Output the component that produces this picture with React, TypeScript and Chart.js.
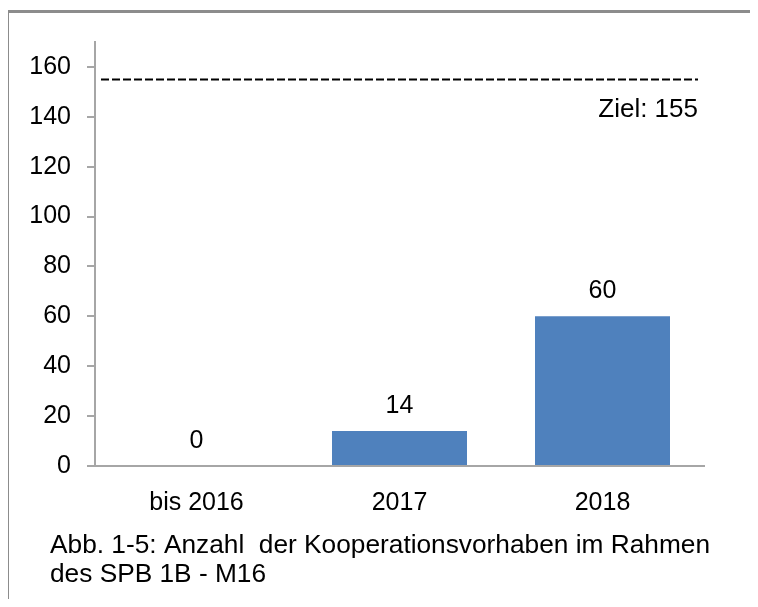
import { useEffect, useRef } from 'react';
import { Chart, registerables } from 'chart.js';

Chart.register(...registerables);

const categories = ['bis 2016', '2017', '2018'];
const values = [0, 14, 60];
const yTicks = [0, 20, 40, 60, 80, 100, 120, 140, 160];
const yMax = 170;
const targetValue = 155;
const targetLabel = 'Ziel: 155';
const captionLines = [
  'Abb. 1-5: Anzahl  der Kooperationsvorhaben im Rahmen',
  'des SPB 1B - M16',
];

const FONT_FAMILY = '"Liberation Sans", Arial, sans-serif';
const AXIS_GREY = '#a6a6a6';

const overlayPlugin = {
  id: 'overlay',
  afterDatasetsDraw(chart: any) {
    const { ctx, chartArea, scales } = chart;
    const y = scales.y;
    ctx.save();
    // data labels
    const meta = chart.getDatasetMeta(0);
    ctx.fillStyle = '#000';
    ctx.font = `25px ${FONT_FAMILY}`;
    ctx.textAlign = 'center';
    ctx.textBaseline = 'middle';
    meta.data.forEach((bar: any, i: number) => {
      ctx.fillText(String(values[i]), bar.x, bar.y - 25);
    });
    // target line
    const ty = y.getPixelForValue(targetValue);
    ctx.strokeStyle = '#000';
    ctx.lineWidth = 2;
    ctx.setLineDash([8, 3]);
    ctx.beginPath();
    ctx.moveTo(chartArea.left + 6, ty);
    ctx.lineTo(chartArea.right - 6, ty);
    ctx.stroke();
    ctx.setLineDash([]);
    ctx.textAlign = 'right';
    ctx.font = `26px ${FONT_FAMILY}`;
    ctx.fillText(targetLabel, chartArea.right - 6, ty + 30);
    // caption
    ctx.textAlign = 'left';
    ctx.textBaseline = 'alphabetic';
    ctx.font = `26px ${FONT_FAMILY}`;
    const w = ctx.measureText(captionLines[0]).width;
    const sx = 660 / w;
    captionLines.forEach((line, i) => {
      ctx.save();
      ctx.translate(50, 553 + i * 29);
      ctx.scale(sx, 1);
      ctx.fillText(line, 0, 0);
      ctx.restore();
    });
    // frame (top and left edges)
    ctx.strokeStyle = '#8c8c8c';
    ctx.lineWidth = 3;
    ctx.beginPath();
    ctx.moveTo(7.5, chart.height + 5);
    ctx.lineTo(7.5, 11.5);
    ctx.lineTo(chart.width + 5, 11.5);
    ctx.stroke();
    ctx.restore();
  },
};

export default function App() {
  const canvasRef = useRef<HTMLCanvasElement | null>(null);

  useEffect(() => {
    if (!canvasRef.current) return;
    const chart = new Chart(canvasRef.current, {
      type: 'bar',
      data: {
        labels: categories,
        datasets: [
          {
            data: values,
            backgroundColor: '#4f81bd',
            barPercentage: 1,
            categoryPercentage: 0.665,
          },
        ],
      },
      options: {
        responsive: false,
        animation: false,
        devicePixelRatio: 1,
        layout: { padding: { left: 0, top: 42, right: 54, bottom: 81 } },
        plugins: {
          legend: { display: false },
          tooltip: { enabled: false },
        },
        scales: {
          x: {
            grid: { display: false },
            border: { display: true, color: AXIS_GREY, width: 2 },
            ticks: {
              color: '#000',
              font: { family: FONT_FAMILY, size: 25 },
              padding: 14,
              maxRotation: 0,
            },
            afterFit: (s: any) => {
              s.height = 60;
            },
          },
          y: {
            min: 0,
            max: yMax,
            afterBuildTicks: (s: any) => {
              s.ticks = yTicks.map((v) => ({ value: v }));
            },
            grid: {
              drawOnChartArea: false,
              drawTicks: true,
              tickLength: 8,
              color: AXIS_GREY,
              lineWidth: 2,
            },
            border: { display: true, color: AXIS_GREY, width: 2 },
            ticks: {
              color: '#000',
              font: { family: FONT_FAMILY, size: 25 },
              padding: 16,
            },
            afterFit: (s: any) => {
              s.width = 95;
            },
          },
        },
      },
      plugins: [overlayPlugin],
    });
    return () => chart.destroy();
  }, []);

  return (
    <div
      style={{
        position: 'relative',
        margin: -8,
        width: 758,
        height: 607,
        background: '#fff',
        overflow: 'hidden',
      }}
    >
      <canvas
        ref={canvasRef}
        width={758}
        height={607}
        style={{ display: 'block', width: 758, height: 607 }}
      />
    </div>
  );
}
